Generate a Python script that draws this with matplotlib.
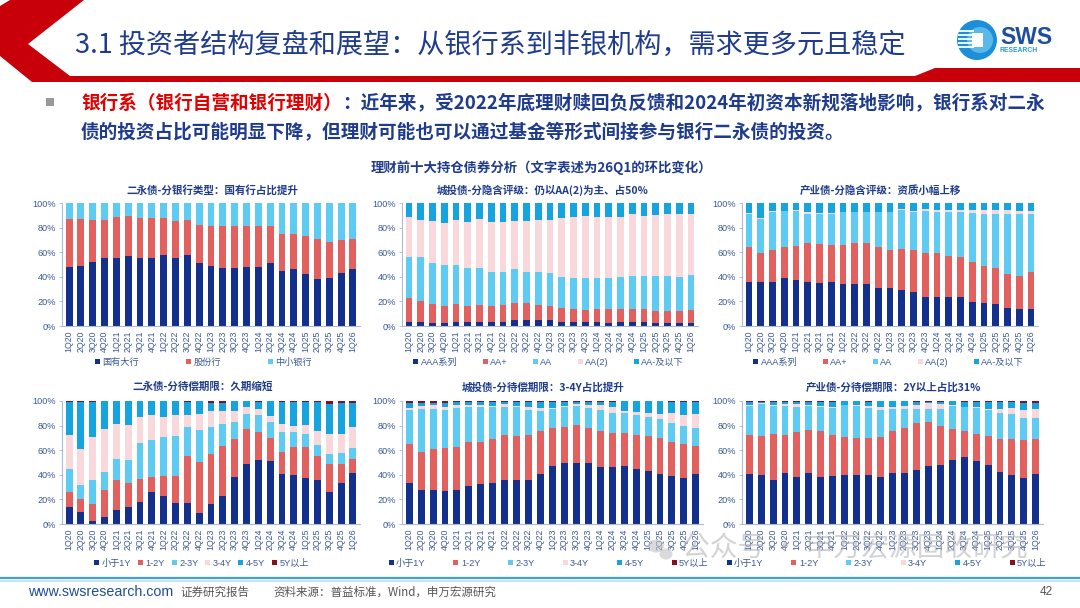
import numpy as np
import matplotlib
matplotlib.use("Agg")
import matplotlib.pyplot as plt
from matplotlib.patches import Polygon, Circle, Rectangle, Ellipse
from matplotlib.ticker import PercentFormatter
from matplotlib.lines import Line2D

plt.rcParams['font.family'] = ['Liberation Sans', 'Noto Sans CJK SC', 'DejaVu Sans']
CJK = ['Noto Sans CJK SC', 'DejaVu Sans']

# ---------------- data (cumulative segment tops, %) ----------------
quarters = ['1Q20', '2Q20', '3Q20', '4Q20', '1Q21', '2Q21', '3Q21', '4Q21', '1Q22', '2Q22',
            '3Q22', '4Q22', '1Q23', '2Q23', '3Q23', '4Q23', '1Q24', '2Q24', '3Q24', '4Q24',
            '1Q25', '2Q25', '3Q25', '4Q25', '1Q26']

# 二永债-分银行类型
bank_labels = ['国有大行', '股份行', '中小银行']
bank_state_top = [48, 49, 52, 55, 55, 57, 55, 55, 58, 55, 58, 51, 49, 47, 47, 48, 48, 51, 45, 46, 42, 38, 39, 43, 46]
bank_joint_top = [87, 86.7, 86.5, 86, 89, 89.5, 88, 87.5, 87.5, 85.5, 86.5, 82, 81.5, 81.5, 81, 81.5, 81, 81, 75, 75,
                  73, 71, 68.5, 70, 71]

# 城投债-分隐含评级
rating_labels = ['AAA系列', 'AA+', 'AA', 'AA(2)', 'AA-及以下']
ct_aaa_top = [3, 3, 2.5, 2.5, 3, 3, 3.5, 3.5, 3.5, 4.5, 4.5, 4.5, 4.5, 3.5, 3, 3, 3, 2.5, 3, 3, 3, 2.5, 2.5, 2.5, 2.5]
ct_aap_top = [22.5, 20, 17.7, 16.3, 17.7, 16.3, 17, 16.3, 17, 18.5, 18.5, 17, 16.3, 15, 13.6, 13, 14, 13.6, 13.6, 13.6,
              13.6, 12.2, 12.2, 12.2, 13]
ct_aa_top = [56, 56, 51.4, 49.7, 49.7, 47.5, 47.5, 43.8, 43.8, 46.5, 44, 44, 43, 40.2, 38.9, 38.9, 38.9, 38.9, 39.7, 41,
             41, 41, 41, 40.2, 41.6]
ct_aa2_top = [88.3, 86.4, 85.6, 83.7, 86.4, 84.2, 87, 84.2, 84.2, 85, 85, 86.4, 86.4, 87.5, 89, 89.7, 88.9, 88.9, 88.9,
              90.8, 89.7, 90.5, 91, 91, 91]

# 产业债-分隐含评级
in_aaa_top = [36, 36, 36, 39.4, 37.5, 36, 35.3, 36, 34, 34.5, 34, 30.7, 30.7, 29.3, 27.4, 23.9, 23.9, 23.9, 23.4, 19.8,
              19, 17.7, 15, 13.6, 13.6]
in_aap_top = [64.1, 59.2, 61.4, 63.9, 65, 67.1, 66.3, 65.5, 65.5, 67.7, 67.7, 64.1, 62, 62.8, 61.4, 59, 59, 57, 56.5,
              52.4, 49, 47, 42.4, 41, 43.5]
in_aa_top = [91.3, 87, 92.7, 93.2, 93.2, 90.8, 91.3, 91.3, 92.7, 92.7, 92.7, 92.7, 92.7, 94, 92.7, 93.5, 92.7, 92.7,
             92.7, 92, 90.8, 90.8, 90.8, 90.8, 90.8]
in_aa2_top = [91.8, 87.5, 93.4, 93.6, 94.5, 92.5, 92, 92, 93, 93, 93, 93, 93, 95, 93.5, 95, 94.5, 94, 94, 94, 94.5, 94,
              94, 93.8, 93.5]

# 分待偿期限
term_labels = ['小于1Y', '1-2Y', '2-3Y', '3-4Y', '4-5Y', '5Y以上']
pb_lt1_top = [14, 9.5, 2.4, 6, 11.4, 14, 17.6, 26, 22.7, 17, 17, 9.2, 16.2, 22.4, 38.1, 48.4, 51.9, 51.1, 40.8, 39.7,
              37.3, 35.4, 26.2, 33.5, 41.6]
pb_12_top = [25.7, 20.3, 16.2, 27.8, 35.4, 33.2, 36.5, 38.1, 39.2, 39.2, 55.4, 50.5, 56.8, 63.5, 69.5, 77, 74.9, 70.3,
             58.6, 62.7, 62.7, 55.4, 48.9, 48.9, 53.2]
pb_23_top = [45.1, 31.6, 35.7, 42.4, 52.7, 52.4, 66.2, 68.6, 70.5, 71.6, 78.9, 76.8, 78.9, 81.4, 83, 89.2, 88.9, 82.7,
             74.9, 74.9, 73, 64, 57.3, 57.8, 61.9]
pb_34_top = [72.2, 60.8, 70.8, 77, 81.1, 80.3, 86.8, 88.4, 87.3, 88.6, 88.6, 89.7, 92.2, 92.2, 92.2, 95.1, 93.8, 87.6,
             81.4, 79.7, 80.3, 75.7, 73.5, 73.5, 78.9]
pb_45_top = [99.5, 99.5, 99.5, 100, 100, 100, 100, 100, 100, 100, 99.5, 100, 98.5, 98.5, 100, 100, 99.5, 100, 99.5,
             99.5, 99.5, 99.5, 97.5, 98.5, 98.5]

ctt_lt1_top = [33.5, 27.3, 27.8, 26.5, 27.3, 30.8, 32.2, 33.5, 35.9, 35.4, 35.9, 40.8, 47.3, 49.2, 49.2, 49.2, 46.5,
               46.5, 47.3, 45.1, 43, 40.3, 39.2, 37.6, 40.3]
ctt_12_top = [64.9, 58.9, 60.8, 61.6, 62.4, 66.8, 66.8, 68.9, 72.2, 71.6, 72.2, 75.7, 77.8, 79.2, 80.5, 78.4, 75.7,
              74.3, 74.3, 72.2, 71.6, 69.7, 66.8, 64.9, 63.5]
ctt_23_top = [92.7, 93.8, 93.5, 93, 94.6, 94.9, 94.9, 94.9, 95.4, 94.9, 92.7, 92.2, 93.2, 94.9, 96, 94.6, 92.7, 90.5,
              90, 88.6, 87.3, 85.1, 82.4, 79.5, 78.4]
ctt_34_top = [94.5, 96, 96.5, 95.5, 96.5, 97, 96.5, 96, 97.5, 96, 95, 94.5, 94.5, 96, 97.5, 97, 96.5, 95, 92, 91, 90.5,
              89.5, 90.5, 89, 89.5]
ctt_45_top = [98.5, 98.5, 98.5, 98.5, 98.8, 99, 99, 99, 99, 99, 99, 99, 99, 99, 99.5, 99.5, 99, 99.5, 100, 100, 100,
              100, 99.5, 99.5, 99.5]

ind_lt1_top = [40.3, 39.7, 35.9, 41.6, 38.1, 41.6, 38.1, 38.9, 39.7, 39.7, 39.7, 38.1, 41.6, 41.6, 43.5, 46.8, 47.8,
               51.9, 54.6, 51.1, 47.8, 42.4, 39.7, 37, 40.3]
ind_12_top = [72.2, 71.4, 73, 72.2, 74.9, 76.5, 75.7, 72.2, 70.8, 70.3, 70, 71.1, 75.9, 78.1, 81.9, 82.7, 79.5, 77,
              75.9, 73, 71.6, 68.9, 68.9, 68.1, 68.9]
ind_23_top = [95.9, 97.8, 96.2, 95.9, 95.1, 95.9, 95.1, 94.6, 96.5, 95.9, 94.6, 93, 93.2, 93.8, 93.8, 93.8, 93.8, 95.9,
              95.1, 94.6, 92.7, 90.5, 89.2, 86.2, 86.5]
ind_34_top = [97, 98.5, 97, 97.5, 97.5, 96.5, 96, 95.5, 97, 96.5, 96, 95.5, 95.5, 96, 97, 98, 97.5, 97, 95.5, 95, 93.5,
              93.5, 94, 92.5, 93.5]
ind_45_top = [99, 99.5, 99, 99, 99, 99, 99.5, 99, 100, 100, 99.5, 100, 100, 100, 99.5, 99.5, 99.5, 100, 99.5, 99.5,
              99.5, 99.5, 99, 98.5, 98.5]

sub_titles = ['二永债-分银行类型：国有行占比提升', '城投债-分隐含评级：仍以AA(2)为主、占50%',
              '产业债-分隐含评级：资质小幅上移', '二永债-分待偿期限：久期缩短',
              '城投债-分待偿期限：3-4Y占比提升', '产业债-分待偿期限：2Y以上占比31%']

# ---------------- style ----------------
NAVY = '#13308C'
RED = '#E2605D'
LBLUE = '#5DCBF2'
PINK = '#F9D8DB'
MBLUE = '#15A4DE'
DRED = '#8A0E1E'
TXT = '#3A5898'
TITLE_BLUE = '#1F3C8C'

W, H = 1080, 608
fig = plt.figure(figsize=(W / 100, H / 100), dpi=100)
fig.patch.set_facecolor('white')

# overlay in pixel coordinates
ov = fig.add_axes([0, 0, 1, 1])
ov.set_xlim(0, W)
ov.set_ylim(H, 0)
ov.axis('off')

# red chevron and bar
ov.add_patch(Polygon([(10, 0), (84, 0), (28, 44), (70, 76), (70, 82), (32, 82), (0, 56), (0, 6)],
                     closed=True, color='#C8000A', lw=0))
ov.add_patch(Polygon([(68, 76), (915, 76), (935, 68), (1080, 68), (1080, 82), (68, 82)],
                     closed=True, color='#C8000A', lw=0))

ov.text(75, 45, '3.1 投资者结构复盘和展望：从银行系到非银机构，需求更多元且稳定', fontsize=19.5,
        color=TITLE_BLUE, family=CJK, va='center', ha='left')

# logo
ov.add_patch(Circle((977, 40), 20, color='#1C8FD8', lw=0))
ov.add_patch(Circle((980, 40), 13, color='#5BB8EA', lw=0))
for yy in [31, 35, 39, 43, 47]:
    ov.plot([958, 974], [yy, yy], color='white', lw=1.3, solid_capstyle='butt')
ov.add_patch(Rectangle((972, 33), 11, 14, color='white', lw=0))
ov.text(1000, 37, 'SWS', fontsize=16.5, fontweight='bold', color='#1F4E9E', va='center', ha='left',
        family='Liberation Sans')
ov.text(1000, 51, 'RESEARCH', fontsize=4.9, fontweight='bold', color='#2A9AD8', va='center', ha='left',
        family='Liberation Sans')

# bullet text
ov.add_patch(Rectangle((46, 98), 8, 8, color='#9A9A9A', lw=0))
t1 = ov.text(81, 103, '银行系（银行自营和银行理财）', fontsize=13.4, fontweight='bold', color='#E30000',
             family=CJK, va='center', ha='left')
ov.annotate('：近年来，受2022年底理财赎回负反馈和2024年初资本新规落地影响，银行系对二永',
            xy=(1, 0.5), xycoords=t1, fontsize=13.4, fontweight='bold', color=TITLE_BLUE,
            family=CJK, va='center', ha='left')
ov.text(81, 133, '债的投资占比可能明显下降，但理财可能也可以通过基金等形式间接参与银行二永债的投资。',
        fontsize=13.4, fontweight='bold', color=TITLE_BLUE, family=CJK, va='center', ha='left')

ov.text(541, 168, '理财前十大持仓债券分析（文字表述为26Q1的环比变化）', fontsize=9.6, fontweight='bold',
        color=TITLE_BLUE, family=CJK, va='center', ha='center')

# footer
ov.plot([0, W], [578, 578], color='#3FA2DC', lw=1.6)
ov.plot([0, W], [580.5, 580.5], color='#BFE0F4', lw=1.2)
ov.text(28, 592, 'www.swsresearch.com', fontsize=10.3, color='#1F4E9A', va='center', ha='left',
        family='Liberation Sans')
ov.text(180, 592, '证券研究报告', fontsize=8.3, color='#555555', va='center', ha='left', family=CJK)
ov.text(273, 592, '资料来源：普益标准，Wind，申万宏源研究', fontsize=8.3, color='#555555', va='center', ha='left',
        family=CJK)
ov.text(1046, 592, '42', fontsize=8.5, color='#555555', va='center', ha='center', family='Liberation Sans')

# ---------------- charts ----------------
panels = [
    dict(rect=(62, 203, 360, 326), tops=[bank_state_top, bank_joint_top], colors=[NAVY, RED, LBLUE],
         labels=bank_labels, tx=212, ty=190, lx=203, ly=362, cs=5.0),
    dict(rect=(402, 203, 698, 326), tops=[ct_aaa_top, ct_aap_top, ct_aa_top, ct_aa2_top],
         colors=[NAVY, RED, LBLUE, PINK, MBLUE], labels=rating_labels, tx=543, ty=190, lx=548, ly=362, cs=2.6),
    dict(rect=(742, 203, 1038, 326), tops=[in_aaa_top, in_aap_top, in_aa_top, in_aa2_top],
         colors=[NAVY, RED, LBLUE, PINK, MBLUE], labels=rating_labels, tx=880, ty=190, lx=888, ly=362, cs=2.6),
    dict(rect=(62, 401, 360, 524), tops=[pb_lt1_top, pb_12_top, pb_23_top, pb_34_top, pb_45_top],
         colors=[NAVY, RED, LBLUE, PINK, MBLUE, DRED], labels=term_labels, tx=203, ty=387, lx=201, ly=563, cs=0.6),
    dict(rect=(402, 401, 703, 524), tops=[ctt_lt1_top, ctt_12_top, ctt_23_top, ctt_34_top, ctt_45_top],
         colors=[NAVY, RED, LBLUE, PINK, MBLUE, DRED], labels=term_labels, tx=543, ty=387, lx=548, ly=563, cs=2.9),
    dict(rect=(742, 401, 1043, 524), tops=[ind_lt1_top, ind_12_top, ind_23_top, ind_34_top, ind_45_top],
         colors=[NAVY, RED, LBLUE, PINK, MBLUE, DRED], labels=term_labels, tx=893, ty=387, lx=886, ly=563, cs=2.9),
]

x = np.arange(len(quarters))
for p, title in zip(panels, sub_titles):
    x0, y0, x1, y1 = p['rect']
    ax = fig.add_axes([x0 / W, 1 - y1 / H, (x1 - x0) / W, (y1 - y0) / H])
    ax.patch.set_alpha(0)
    bounds = np.vstack([np.zeros(len(x)), np.array(p['tops'], dtype=float), np.full(len(x), 100.0)])
    shares = np.diff(bounds, axis=0)
    handles = []
    for i in range(shares.shape[0]):
        ax.bar(x, shares[i], bottom=bounds[i], width=0.58, color=p['colors'][i], linewidth=0)
        handles.append(Line2D([], [], marker='s', linestyle='none', markersize=3.6,
                              markerfacecolor=p['colors'][i], markeredgewidth=0, label=p['labels'][i]))
    ax.set_xlim(-0.6, len(x) - 0.4)
    ax.set_ylim(0, 100)
    ax.set_yticks([0, 20, 40, 60, 80, 100])
    ax.yaxis.set_major_formatter(PercentFormatter(xmax=100, decimals=0))
    ax.set_xticks(x)
    ax.set_xticklabels(quarters, rotation=90)
    for s in ['top', 'right']:
        ax.spines[s].set_visible(False)
    for s in ['left', 'bottom']:
        ax.spines[s].set_color('#AEB9D2')
        ax.spines[s].set_linewidth(0.8)
    ax.tick_params(axis='y', labelsize=6.6, colors=TXT, length=2.5, width=0.6, pad=2)
    ax.tick_params(axis='x', labelsize=6.3, colors=TXT, length=0, pad=3)
    ax.tick_params(axis='both', color='#AEB9D2')
    for lab in ax.get_yticklabels() + ax.get_xticklabels():
        lab.set_color(TXT)
    fig.text(p['tx'] / W, 1 - p['ty'] / H, title, fontsize=7.6, fontweight='bold', color=TITLE_BLUE,
             family=CJK, ha='center', va='center')
    fig.legend(handles=handles, loc='center', bbox_to_anchor=(p['lx'] / W, 1 - p['ly'] / H),
               ncol=len(handles), frameon=False, fontsize=6.6, handlelength=0.7, handletextpad=0.25,
               columnspacing=p['cs'], labelcolor=TXT, borderaxespad=0, borderpad=0)

# watermark
wm = fig.add_axes([0, 0, 1, 1])
wm.set_xlim(0, W)
wm.set_ylim(H, 0)
wm.axis('off')
wm.add_patch(Ellipse((656, 546), 16, 13, color='#BDBDBD', alpha=0.55, lw=0))
wm.add_patch(Ellipse((666, 554), 13, 11, color='#BDBDBD', alpha=0.55, lw=0))
wm.text(682, 548, '公众号 · 申万宏源固收研究', fontsize=20, color='#B0B0B0', alpha=0.55, family=CJK,
        va='center', ha='left')

fig.savefig('out.png', dpi=100, facecolor='white')
